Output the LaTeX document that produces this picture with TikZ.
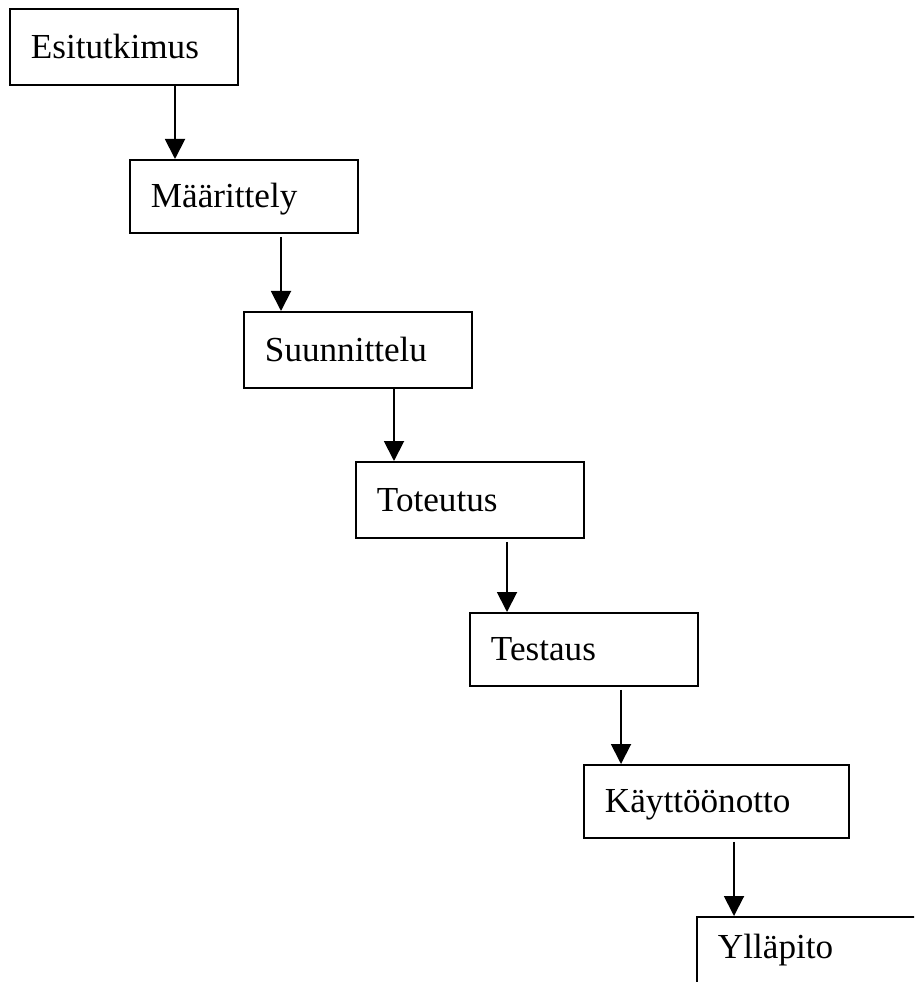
\documentclass[tikz,border=0pt]{standalone}
\usepackage{fontspec}
\setmainfont{Liberation Serif}
\usetikzlibrary{arrows.meta}

\begin{document}
\begin{tikzpicture}[
  phase/.style={draw, line width=0.55pt, anchor=north west, minimum height=0.76cm,
                inner xsep=0.21cm, inner ysep=0pt, align=left,
                text height=0.23cm, text depth=0cm,
                font=\fontsize{10}{11}\selectfont},
  flow/.style={line width=0.55pt, -{Triangle[width=0.2cm,length=0.2cm]}}
]
\clip (0,0) rectangle (9.14,-9.82);
\useasboundingbox (0,0) rectangle (9.14,-9.82);

% the seven phases, stepping down to the right
\node[phase, text width=1.86cm] (b1) at (0.09,-0.08) {Esitutkimus};
\node[phase, text width=1.86cm, minimum height=0.73cm] (b2) at (1.29,-1.59) {Määrittely};
\node[phase, text width=1.86cm] (b3) at (2.43,-3.11) {Suunnittelu};
\node[phase, text width=1.86cm] (b4) at (3.55,-4.61) {Toteutus};
\node[phase, text width=1.86cm, minimum height=0.73cm] (b5) at (4.69,-6.12) {Testaus};
\node[phase, text width=2.23cm, minimum height=0.73cm] (b6) at (5.83,-7.64) {Käyttöönotto};
% the last box runs past the lower and right edges
\node[phase, text width=1.98cm, minimum height=0cm,
      text height=0.42cm, text depth=0.5cm] (b7) at (6.96,-9.16) {Ylläpito};

% start points of the connectors below each box
\coordinate (s1) at ([xshift=1.66cm]b1.south west);
\coordinate (s2) at ([xshift=1.52cm,yshift=-0.03cm]b2.south west);
\coordinate (s3) at ([xshift=1.51cm]b3.south west);
\coordinate (s4) at ([xshift=1.52cm,yshift=-0.03cm]b4.south west);
\coordinate (s5) at ([xshift=1.52cm,yshift=-0.03cm]b5.south west);
\coordinate (s6) at ([xshift=1.51cm,yshift=-0.03cm]b6.south west);

\draw[flow] (s1) -- (s1 |- b2.north);
\draw[flow] (s2) -- (s2 |- b3.north);
\draw[flow] (s3) -- (s3 |- b4.north);
\draw[flow] (s4) -- (s4 |- b5.north);
\draw[flow] (s5) -- (s5 |- b6.north);
\draw[flow] (s6) -- (s6 |- b7.north);
\end{tikzpicture}
\end{document}
